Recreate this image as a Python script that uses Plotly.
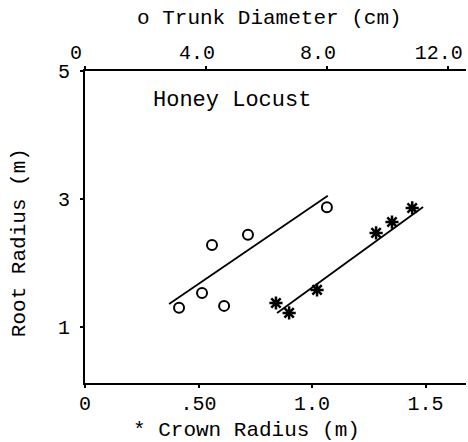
import plotly.graph_objects as go

# Trunk diameter (cm, top axis) vs root radius (m)
trunk_diam = [3.11, 3.87, 4.60, 4.20, 5.39, 8.00]
trunk_root = [1.30, 1.53, 1.33, 2.28, 2.44, 2.87]
trunk_fit_x = [2.78, 8.03]
trunk_fit_y = [1.36, 3.05]

# Crown radius (m, bottom axis) vs root radius (m)
crown_rad = [0.841, 0.899, 1.022, 1.282, 1.352, 1.441]
crown_root = [1.375, 1.22, 1.58, 2.47, 2.64, 2.86]
crown_fit_x = [0.846, 1.489]
crown_fit_y = [1.22, 2.875]

bottom_ticks = [0, 0.5, 1.0, 1.5]
bottom_labels = ["0", ".50", "1.0", "1.5"]
top_ticks = [0, 4, 8, 12]
top_labels = ["0", "4.0", "8.0", "12.0"]
y_ticks = [1, 3, 5]
y_labels = ["1", "3", "5"]

FONT = "Courier New, Liberation Mono, monospace"
FS = 20

fig = go.Figure()
fig.add_trace(go.Scatter(x=trunk_fit_x, y=trunk_fit_y, mode="lines", xaxis="x2",
                         line=dict(color="black", width=1.8), showlegend=False))
fig.add_trace(go.Scatter(x=trunk_diam, y=trunk_root, mode="markers", xaxis="x2",
                         marker=dict(symbol="circle-open", size=10, color="black",
                                     line=dict(width=2, color="black")), showlegend=False))
fig.add_trace(go.Scatter(x=crown_fit_x, y=crown_fit_y, mode="lines",
                         line=dict(color="black", width=1.8), showlegend=False))
fig.add_trace(go.Scatter(x=crown_rad, y=crown_root, mode="markers",
                         marker=dict(symbol="asterisk-open", size=11, color="black",
                                     line=dict(width=2.5, color="black")), showlegend=False))

axis_common = dict(showgrid=False, zeroline=False, showline=True, linecolor="black",
                   linewidth=2, ticks="outside", ticklen=3, tickwidth=1.5, tickcolor="black",
                   automargin=False, ticklabeloverflow="allow",
                   tickfont=dict(family=FONT, size=FS, color="black"))

fig.update_layout(
    width=468, height=442,
    margin=dict(l=85, r=2, t=71, b=59, autoexpand=False),
    paper_bgcolor="white", plot_bgcolor="white",
    xaxis=dict(range=[0, 1.678], tickvals=bottom_ticks, ticktext=bottom_labels,
               ticklabelstandoff=-2, **axis_common),
    xaxis2=dict(range=[0, 12.6], tickvals=top_ticks, ticktext=top_labels,
                overlaying="x", side="top", anchor="y", ticklabelstandoff=-1,
                ticklabelshift=-9, **axis_common),
    yaxis=dict(range=[0.125, 5.0], tickvals=y_ticks, ticktext=y_labels,
               ticklabelstandoff=6, **axis_common),
    font=dict(family=FONT, size=FS, color="black"),
)

fig.add_annotation(text="o Trunk Diameter (cm)", xref="paper", yref="paper",
                   x=0.483, y=1.167, showarrow=False, xanchor="center", yanchor="middle",
                   font=dict(family=FONT, size=FS + 1))
fig.add_annotation(text="* Crown Radius (m)", xref="paper", yref="paper",
                   x=0.423, y=-0.152, showarrow=False, xanchor="center", yanchor="middle",
                   font=dict(family=FONT, size=FS + 1))
fig.add_annotation(text="Root Radius (m)", xref="paper", yref="paper",
                   x=-0.17, y=0.449, showarrow=False, textangle=-90,
                   xanchor="center", yanchor="middle", font=dict(family=FONT, size=FS + 1))
fig.add_annotation(text="Honey Locust", xref="paper", yref="paper",
                   x=0.386, y=0.907, showarrow=False, xanchor="center", yanchor="middle",
                   font=dict(family=FONT, size=FS + 2))

fig.write_html("out.html", config={"displayModeBar": False},
               post_script="document.body.style.margin='0';document.body.style.overflow='hidden';")
